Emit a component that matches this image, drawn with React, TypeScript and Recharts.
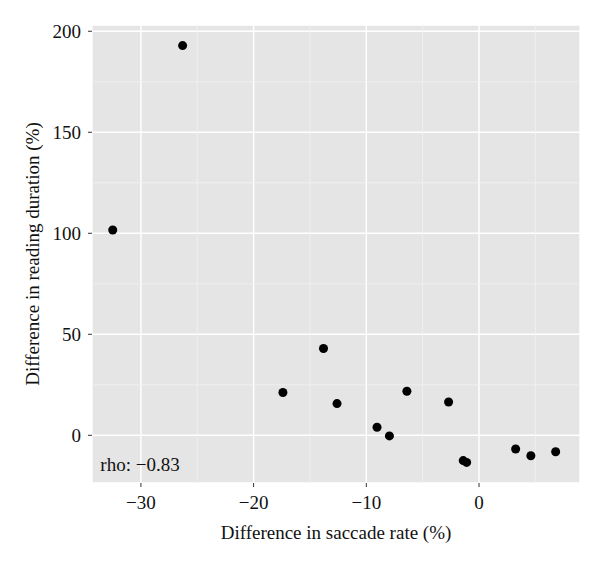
import { CartesianGrid, ReferenceDot, ReferenceLine, Scatter, ScatterChart, XAxis, YAxis } from "recharts";

// saccade rate difference (%) vs reading duration difference (%)
const saccadeDiff = [-26.3, -32.5, -17.4, -13.8, -12.6, -6.4, -2.7, -9.05, -7.95, -1.4, -1.1, 3.25, 4.6, 6.8];
const readingDiff = [192.9, 101.6, 21.2, 43.0, 15.7, 21.8, 16.5, 4.0, -0.3, -12.5, -13.4, -6.8, -10.1, -8.1];

const xTicks = [-30, -20, -10, 0];
const yTicks = [0, 50, 100, 150, 200];
const xMinor = [-25, -15, -5, 5];
const yMinor = [25, 75, 125, 175];

const rhoLabel = "rho: \u22120.83";
const xTitle = "Difference in saccade rate (%)";
const yTitle = "Difference in reading duration (%)";

const points = saccadeDiff.map((x, i) => ({ x, y: readingDiff[i] }));

const font = "'Liberation Serif', 'Times New Roman', serif";
const tickStyle = { fontFamily: font, fontSize: 19, fill: "#111" };

const App = () => {
    return (
        <div style={{ position: "absolute", left: 0, top: 0, background: "#fff" }}>
            <ScatterChart width={600} height={565} margin={{ top: 25, right: 20, bottom: 0, left: 0 }}>
                <CartesianGrid fill="#e5e5e5" stroke="#ffffff" strokeWidth={1.4} />
                {xMinor.map((v) => (
                    <ReferenceLine key={"vx" + v} x={v} stroke="#f2f2f2" strokeWidth={0.8} />
                ))}
                {yMinor.map((v) => (
                    <ReferenceLine key={"hy" + v} y={v} stroke="#f2f2f2" strokeWidth={0.8} />
                ))}
                <XAxis
                    type="number"
                    dataKey="x"
                    domain={[-34.34, 8.96]}
                    ticks={xTicks}
                    allowDataOverflow
                    axisLine={false}
                    tickLine={{ stroke: "#333" }}
                    tickSize={4}
                    tickMargin={9}
                    height={82}
                    tick={tickStyle}
                    tickFormatter={(v: number) => (v < 0 ? "\u2212" + Math.abs(v) : String(v))}
                    label={{
                        content: ({ viewBox }: any) => (
                            <text
                                x={viewBox.x + viewBox.width / 2}
                                y={532}
                                textAnchor="middle"
                                dominantBaseline="central"
                                style={{ fontFamily: font, fontSize: 19, fill: "#111" }}
                            >
                                {xTitle}
                            </text>
                        ),
                    }}
                />
                <YAxis
                    type="number"
                    dataKey="y"
                    domain={[-23.6, 203.1]}
                    ticks={yTicks}
                    allowDataOverflow
                    axisLine={false}
                    tickLine={{ stroke: "#333" }}
                    tickSize={4}
                    tickMargin={7}
                    width={92}
                    tick={tickStyle}
                    label={{
                        content: ({ viewBox }: any) => {
                            const cx = 32;
                            const cy = viewBox.y + viewBox.height / 2;
                            return (
                                <text
                                    x={cx}
                                    y={cy}
                                    textAnchor="middle"
                                    dominantBaseline="central"
                                    transform={`rotate(-90, ${cx}, ${cy})`}
                                    style={{ fontFamily: font, fontSize: 19, fill: "#111" }}
                                >
                                    {yTitle}
                                </text>
                            );
                        },
                    }}
                />
                <ReferenceDot
                    x={-33.6}
                    y={-14.5}
                    r={0}
                    fill="none"
                    stroke="none"
                    label={{
                        content: ({ viewBox }: any) => (
                            <text
                                x={viewBox.x}
                                y={viewBox.y}
                                textAnchor="start"
                                dominantBaseline="central"
                                style={{ fontFamily: font, fontSize: 19, fill: "#111" }}
                            >
                                {rhoLabel}
                            </text>
                        ),
                    }}
                />
                <Scatter data={points} fill="#000" shape="circle" isAnimationActive={false} />
            </ScatterChart>
        </div>
    );
};

export default App;
